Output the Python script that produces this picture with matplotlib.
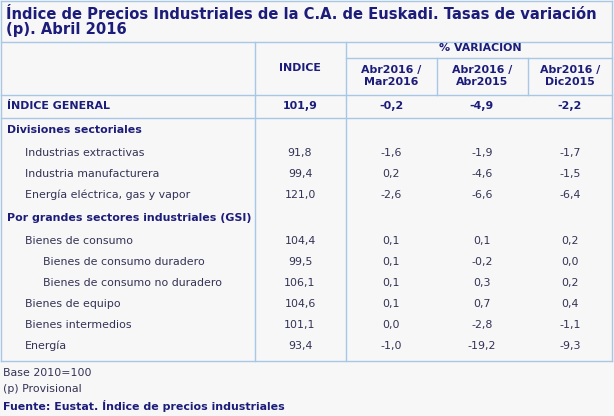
import matplotlib
matplotlib.use("Agg")
import matplotlib.pyplot as plt

labels = ["ÍNDICE GENERAL", "Divisiones sectoriales", "Industrias extractivas", "Industria manufacturera",
          "Energía eléctrica, gas y vapor", "Por grandes sectores industriales (GSI)", "Bienes de consumo",
          "Bienes de consumo duradero", "Bienes de consumo no duradero", "Bienes de equipo",
          "Bienes intermedios", "Energía"]
indent = [0, 0, 1, 1, 1, 0, 1, 2, 2, 1, 1, 1]
indice = ["101,9", "", "91,8", "99,4", "121,0", "", "104,4", "99,5", "106,1", "104,6", "101,1", "93,4"]
v_mar = ["-0,2", "", "-1,6", "0,2", "-2,6", "", "0,1", "0,1", "0,1", "0,1", "0,0", "-1,0"]
v_abr = ["-4,9", "", "-1,9", "-4,6", "-6,6", "", "0,1", "-0,2", "0,3", "0,7", "-2,8", "-19,2"]
v_dic = ["-2,2", "", "-1,7", "-1,5", "-6,4", "", "0,2", "0,0", "0,2", "0,4", "-1,1", "-9,3"]
col_heads = ["Abr2016 /\nMar2016", "Abr2016 /\nAbr2015", "Abr2016 /\nDic2015"]

row_y = [106, 130, 153, 174, 195, 218, 241, 262, 283, 304, 325, 346]
bold_rows = {0, 1, 5}

fig = plt.figure(figsize=(6.14, 4.16), dpi=100)
fig.patch.set_facecolor("#f7f7f7")
ax = fig.add_axes([0, 0, 1, 1])
ax.set_xlim(0, 614); ax.set_ylim(416, 0); ax.axis("off")

navy = "#1c1c7a"
txt = "#333355"
bc = "#a6c8e6"
lw = 1.0

def h(y, x0, x1): ax.plot([x0, x1], [y, y], color=bc, lw=lw)
def v(x, y0, y1): ax.plot([x, x], [y0, y1], color=bc, lw=lw)

h(1, 1, 612); h(42, 1, 612); h(58, 346, 612); h(95, 1, 612); h(118, 1, 612); h(361, 1, 612)
v(1, 1, 361); v(612, 1, 361); v(255, 42, 361); v(346, 42, 361); v(437, 58, 95); v(528, 58, 95)

fs = 7.9
ax.text(6, 22, "Índice de Precios Industriales de la C.A. de Euskadi. Tasas de variación\n(p). Abril 2016",
        fontsize=10.6, fontweight="bold", color=navy, va="center", ha="left", linespacing=1.05)
ax.text(480, 48, "% VARIACION", fontsize=fs, fontweight="bold", color=navy, ha="center", va="center")
ax.text(300, 68, "INDICE", fontsize=fs, fontweight="bold", color=navy, ha="center", va="center")
for xc, t in zip([391, 482, 570], col_heads):
    ax.text(xc, 76, t, fontsize=fs, fontweight="bold", color=navy, ha="center", va="center", linespacing=1.3)

for i, (lab, y) in enumerate(zip(labels, row_y)):
    b = i in bold_rows
    col = navy if b else txt
    w = "bold" if b else "normal"
    ax.text(7 + 18 * indent[i], y, lab, fontsize=fs, fontweight=w, color=col, ha="left", va="center")
    for xc, val in zip([300, 391, 482, 570], [indice[i], v_mar[i], v_abr[i], v_dic[i]]):
        ax.text(xc, y, val, fontsize=fs, fontweight=w, color=col, ha="center", va="center")

ax.text(3, 373, "Base 2010=100", fontsize=fs, color=txt, ha="left", va="center")
ax.text(3, 389, "(p) Provisional", fontsize=fs, color=txt, ha="left", va="center")
ax.text(3, 406, "Fuente: Eustat. Índice de precios industriales", fontsize=fs, fontweight="bold", color=navy, ha="left", va="center")

fig.savefig("out.png", dpi=100, facecolor=fig.get_facecolor())
